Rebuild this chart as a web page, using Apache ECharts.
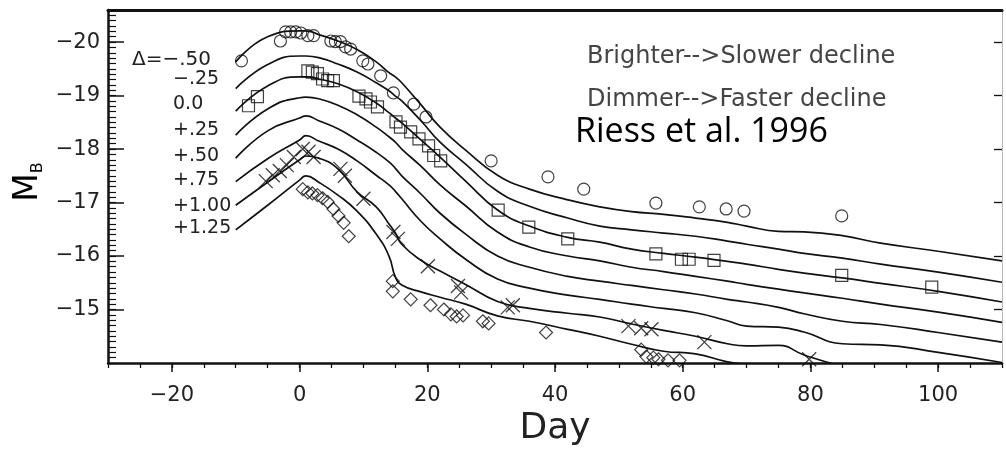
<!DOCTYPE html>
<html lang="en">
<head>
  <meta charset="UTF-8">
  <title>MLCS light curves - Riess et al. 1996</title>
  <script src="https://cdn.jsdelivr.net/npm/echarts@6.0.0/dist/echarts.min.js"></script>
  <style>
    html, body {
      margin: 0;
      padding: 0;
      background: #fff;
    }

    #main {
      width: 1006px;
      height: 453px;
    }
  </style>
</head>
<body>
<div id="main"></div>
<script>
  // day grid shared by the template curves
  var days = [-10, -5, 0, 1, 3, 6, 9, 12, 14, 15, 16, 19, 22, 26, 31, 36, 42, 47, 52, 57, 62, 67, 70, 75, 79, 85, 91, 100, 110];

  // template curves M_B(day), one per delta
  var curveM050 = [-19.63, -20.10, -20.21, -20.21, -20.14, -20.02, -19.86, -19.63, -19.43, -19.35, -19.24, -18.83, -18.41, -17.98, -17.51, -17.25, -17.05, -16.92, -16.83, -16.78, -16.71, -16.63, -16.56, -16.46, -16.45, -16.38, -16.24, -16.09, -15.91];
  var curveM025 = [-19.13, -19.58, -19.74, -19.74, -19.71, -19.59, -19.44, -19.24, -19.09, -18.99, -18.90, -18.53, -18.13, -17.72, -17.21, -16.93, -16.71, -16.56, -16.49, -16.43, -16.37, -16.28, -16.22, -16.13, -16.05, -15.96, -15.85, -15.70, -15.51];
  var curveP000 = [-18.71, -19.18, -19.35, -19.35, -19.31, -19.22, -19.07, -18.86, -18.68, -18.58, -18.49, -18.17, -17.85, -17.40, -16.86, -16.56, -16.35, -16.26, -16.13, -16.05, -15.98, -15.90, -15.85, -15.75, -15.68, -15.59, -15.49, -15.34, -15.14];
  var curveP025 = [-18.26, -18.75, -18.96, -18.97, -18.94, -18.82, -18.64, -18.41, -18.23, -18.13, -18.00, -17.68, -17.33, -16.94, -16.45, -16.17, -16.00, -15.91, -15.79, -15.71, -15.62, -15.53, -15.47, -15.38, -15.31, -15.21, -15.10, -14.95, -14.76];
  var curveP050 = [-17.83, -18.34, -18.58, -18.62, -18.53, -18.38, -18.17, -17.94, -17.76, -17.64, -17.50, -17.16, -16.80, -16.41, -16.00, -15.79, -15.62, -15.53, -15.45, -15.37, -15.29, -15.19, -15.14, -15.04, -14.92, -14.78, -14.72, -14.57, -14.39];
  var curveP075 = [-17.39, -17.82, -18.17, -18.25, -18.15, -18.00, -17.78, -17.51, -17.33, -17.21, -17.07, -16.65, -16.32, -15.94, -15.57, -15.40, -15.27, -15.19, -15.10, -15.02, -14.94, -14.79, -14.69, -14.67, -14.58, -14.36, -14.34, -14.20, -14.01];
  var curveP100 = [-16.95, -17.38, -17.80, -17.87, -17.83, -17.63, -17.20, -16.92, -16.60, -16.43, -16.22, -15.92, -15.72, -15.47, -15.15, -15.02, -14.93, -14.86, -14.73, -14.61, -14.50, -14.36, -14.32, -14.33, -14.15, -13.94, -13.80, -13.60, -13.40];
  var curveP125 = [-16.49, -16.95, -17.42, -17.50, -17.38, -17.14, -16.84, -16.41, -16.00, -15.61, -15.46, -15.33, -15.23, -15.10, -14.88, -14.78, -14.63, -14.50, -14.35, -14.22, -14.17, -14.02, -13.96, -13.79, -13.65, -13.45, -13.25, -12.95, -12.60];

  var deltaLabels = ['Δ=−.50', '−.25', '0.0', '+.25', '+.50', '+.75', '+1.00', '+1.25'];

  // observed supernovae
  var circleDays = [-9.1, -3.0, -2.2, -1.4, -0.6, 0.2, 1.3, 2.2, 4.9, 5.6, 6.4, 7.2, 8.0, 9.9, 10.7, 12.7, 14.7, 17.9, 19.8, 30.0, 38.9, 44.5, 55.8, 62.6, 66.8, 69.6, 84.9];
  var circleMags = [-19.65, -20.02, -20.19, -20.19, -20.19, -20.17, -20.12, -20.12, -20.02, -20.01, -20.01, -19.91, -19.87, -19.65, -19.59, -19.37, -19.05, -18.84, -18.60, -17.78, -17.48, -17.25, -16.99, -16.92, -16.88, -16.84, -16.75];

  var squareDays = [-8.0, -6.6, 1.3, 2.0, 2.8, 3.6, 4.4, 5.3, 9.3, 10.4, 11.1, 12.2, 15.1, 15.8, 17.4, 18.7, 20.2, 21.0, 22.1, 31.1, 35.9, 42.0, 55.8, 59.8, 61.0, 64.9, 84.9, 99.0];
  var squareMags = [-18.81, -18.98, -19.46, -19.44, -19.41, -19.31, -19.28, -19.28, -18.99, -18.94, -18.88, -18.79, -18.51, -18.41, -18.32, -18.19, -18.06, -17.88, -17.78, -16.86, -16.54, -16.32, -16.04, -15.94, -15.94, -15.92, -15.64, -15.42];

  var crossDays = [-5.3, -4.2, -3.1, -2.0, -0.9, 0.5, 1.4, 2.2, 6.4, 7.1, 10.0, 14.7, 15.4, 20.1, 24.8, 25.3, 32.6, 33.4, 51.5, 53.5, 55.1, 63.4, 79.8];
  var crossMags = [-17.40, -17.51, -17.59, -17.70, -17.85, -18.00, -17.95, -17.85, -17.63, -17.50, -17.07, -16.45, -16.32, -15.81, -15.44, -15.32, -15.04, -15.08, -14.69, -14.65, -14.63, -14.39, -14.07];

  var diamondDays = [0.5, 1.3, 2.0, 2.8, 3.6, 4.4, 5.3, 6.1, 6.9, 7.7, 14.6, 14.6, 17.4, 20.5, 22.6, 23.7, 24.6, 25.6, 28.7, 29.6, 38.6, 53.5, 54.3, 55.4, 56.2, 57.7, 59.5];
  var diamondMags = [-17.25, -17.19, -17.17, -17.14, -17.08, -17.01, -16.88, -16.75, -16.62, -16.37, -15.53, -15.34, -15.19, -15.08, -15.00, -14.91, -14.87, -14.89, -14.78, -14.74, -14.57, -14.25, -14.12, -14.10, -14.07, -14.05, -14.05];

  // axis ticks
  var xMajor = [-20, 0, 20, 40, 60, 80, 100];
  var yMajor = [-20, -19, -18, -17, -16, -15];

  var FONT = '"DejaVu Sans", sans-serif';
  var INK = '#111';

  function pairs(xs, ys) {
    var out = [];
    for (var i = 0; i < xs.length; i++) {
      out.push([xs[i], ys[i]]);
    }
    return out;
  }

  function minus(v) {
    return String(v).replace('-', '−');
  }

  var myChart = echarts.init(document.getElementById('main'), null, {renderer: 'canvas'});

  var curves = [curveM050, curveM025, curveP000, curveP025, curveP050, curveP075, curveP100, curveP125];
  var series = [];
  curves.forEach(function (c, k) {
    series.push({
      name: deltaLabels[k],
      type: 'line',
      xAxisIndex: 0,
      yAxisIndex: 0,
      data: pairs(days, c),
      showSymbol: false,
      smooth: 0.5,
      clip: true,
      lineStyle: {color: INK, width: 1.7},
      z: 2
    });
  });

  function marks(xs, ys, symbol, size, width) {
    return {
      type: 'scatter',
      xAxisIndex: 0,
      yAxisIndex: 0,
      data: pairs(xs, ys),
      symbol: symbol,
      symbolSize: size,
      clip: true,
      itemStyle: {color: 'rgba(0,0,0,0)', borderColor: INK, borderWidth: width},
      z: 3
    };
  }

  series.push(marks(circleDays, circleMags, 'circle', 12, 1.2));
  series.push(marks(squareDays, squareMags, 'rect', 12, 1.2));
  series.push(marks(crossDays, crossMags, 'path://M0,0L10,10M10,0L0,10', 14, 1.3));
  series.push(marks(diamondDays, diamondMags, 'diamond', 13, 1.2));

  // Δ labels at the left end of the curves
  var labelY = [60, 79, 104, 130, 156, 180, 206, 228];
  var graphics = [];
  deltaLabels.forEach(function (t, k) {
    graphics.push({
      type: 'text',
      x: k === 0 ? 132 : 173,
      y: labelY[k],
      style: {text: t, font: (k === 0 ? '20px ' : '19px ') + FONT, fill: '#222', align: 'left', verticalAlign: 'middle'}
    });
  });
  graphics.push({
    type: 'text', x: 587, y: 57,
    style: {text: 'Brighter-->Slower decline', font: '24px ' + FONT, fill: '#444', align: 'left', verticalAlign: 'middle'}
  });
  graphics.push({
    type: 'text', x: 587, y: 100,
    style: {text: 'Dimmer-->Faster decline', font: '24px ' + FONT, fill: '#444', align: 'left', verticalAlign: 'middle'}
  });
  graphics.push({
    type: 'text', x: 575, y: 132,
    style: {text: 'Riess et al. 1996', font: '34px "Open Sans", "Noto Sans", sans-serif', fill: '#000', align: 'left', verticalAlign: 'middle'}
  });
  // y axis title M_B
  graphics.push({
    type: 'text', x: 28, y: 182, rotation: Math.PI / 2,
    style: {
      text: '{m|M}{b|B}',
      align: 'center',
      verticalAlign: 'middle',
      rich: {
        m: {fontSize: 33, fontFamily: FONT, color: '#222', lineHeight: 36},
        b: {fontSize: 16, fontFamily: FONT, color: '#222', verticalAlign: 'bottom'}
      }
    }
  });

  var gridBox = {left: 108, right: 4, top: 10, bottom: 90, containLabel: false, outerBoundsMode: 'none'};

  var option = {
    animation: false,
    backgroundColor: '#fff',
    grid: [gridBox, gridBox],
    xAxis: [
      {
        // minor ticks every 5 days
        gridIndex: 0, type: 'value', position: 'bottom', min: -30, max: 110, interval: 5,
        axisLine: {onZero: false, lineStyle: {color: INK, width: 2.5}},
        axisTick: {inside: false, length: 5, lineStyle: {color: INK, width: 1.3}},
        axisLabel: {show: false},
        splitLine: {show: false}
      },
      {
        gridIndex: 1, type: 'value', position: 'bottom', min: -30, max: 110,
        axisLine: {show: false, onZero: false},
        axisTick: {inside: false, length: 9, customValues: xMajor, lineStyle: {color: INK, width: 1.5}},
        axisLabel: {customValues: xMajor, formatter: minus, fontSize: 21, fontFamily: FONT, color: '#222', margin: 22},
        splitLine: {show: false},
        name: 'Day', nameLocation: 'middle', nameGap: 45,
        nameTextStyle: {fontSize: 36, fontFamily: FONT, color: '#222'}
      },
      {
        gridIndex: 1, type: 'value', position: 'top', min: -30, max: 110,
        axisLine: {onZero: false, lineStyle: {color: INK, width: 3}},
        axisTick: {show: false},
        axisLabel: {show: false},
        splitLine: {show: false}
      }
    ],
    yAxis: [
      {
        // minor ticks every 0.1 mag
        gridIndex: 0, type: 'value', position: 'left', inverse: true, min: -20.6, max: -14, interval: 0.1,
        axisLine: {onZero: false, lineStyle: {color: INK, width: 2.5}},
        axisTick: {inside: true, length: 8, lineStyle: {color: INK, width: 1.2}},
        axisLabel: {show: false},
        splitLine: {show: false}
      },
      {
        gridIndex: 1, type: 'value', position: 'left', inverse: true, min: -20.6, max: -14,
        axisLine: {show: false, onZero: false},
        axisTick: {inside: true, length: 16, customValues: yMajor, lineStyle: {color: INK, width: 1.5}},
        axisLabel: {customValues: yMajor, formatter: minus, fontSize: 21, fontFamily: FONT, color: '#222', margin: 8},
        splitLine: {show: false}
      },
      {
        gridIndex: 1, type: 'value', position: 'right', inverse: true, min: -20.6, max: -14,
        axisLine: {onZero: false, lineStyle: {color: '#aaa', width: 1, type: 'dotted'}},
        axisTick: {inside: true, length: 8, customValues: yMajor, lineStyle: {color: INK, width: 1.3}},
        axisLabel: {show: false},
        splitLine: {show: false}
      }
    ],
    graphic: graphics,
    series: series
  };

  myChart.setOption(option);
</script>
</body>
</html>
